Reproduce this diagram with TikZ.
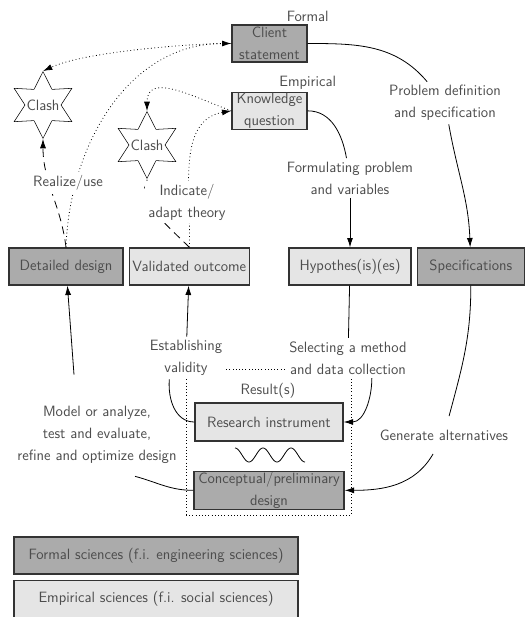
\documentclass[tikz,border=0pt]{standalone}
\usepackage{tikz}
\usetikzlibrary{arrows.meta,shapes,positioning,calc}
\tikzset{
    box/.style={draw=black!80, line width=1pt, minimum height=27.75pt, inner sep=0pt, align=center, text=black!70},
    formal/.style={box, fill=black!33},
    empirical/.style={box, fill=black!10},
    clash/.style={draw, star, star points=6, star point ratio=1.85, minimum size=50pt, inner sep=0pt, fill=white},
    phase/.style={align=center, fill=white, inner sep=2.5pt, text=black!70},
    link/.style={semithick},
    flow/.style={link, -{Latex[length=7pt, width=4.5pt]}},
    feedback/.style={flow, dotted},
    conflict/.style={flow, dash pattern=on 6pt off 4pt}
}

\begin{document}
\begin{tikzpicture}[x=0.75pt, y=-0.75pt, font={\fontsize{11.2pt}{16.5pt}\selectfont\sffamily}]
\useasboundingbox (0,0) rectangle (525,617);
\node[draw, dotted, minimum width=123.75pt, minimum height=109.5pt] (results) at (268.5,442) {};

\node[formal, minimum width=56.25pt] (client) at (269.5,43.5) {Client\\statement};
\node[empirical, minimum width=56.25pt, below=21.75pt of client] (knowledge) {Knowledge\\question};
\node[text=black!70, inner sep=1.5pt, above=0pt of client.north east] (formaltag) {Formal};
\node[text=black!70, inner sep=1.5pt, above=0pt of knowledge.north east] (empiricaltag) {Empirical};
\node[formal, minimum width=85.5pt] (detailed) at (66,266.5) {Detailed design};
\node[empirical, minimum width=90pt, right=3.75pt of detailed] (validated) {Validated outcome};
\node[empirical, minimum width=91.5pt] (hypotheses) at (350,266.5) {Hypothes(is)(es)};
\node[formal, minimum width=80.25pt, right=3.75pt of hypotheses] (specs) {Specifications};
\node[empirical, minimum width=111pt, minimum height=28.5pt] (instrument) at (269,422) {Research instrument};
\node[formal, minimum width=112.5pt, minimum height=28.5pt, below=21.75pt of instrument] (concept) {Conceptual/preliminary\\design};
\node[formal, minimum width=213pt] (formalkey) at (156,555.5) {Formal sciences (f.i. engineering sciences)};
\node[empirical, minimum width=213pt, below=3.75pt of formalkey] (empiricalkey) {Empirical sciences (f.i. social sciences)};

\node[clash, label={[text=black!70]center:Clash}] (clash1) at (43,105) {};
\node[clash, label={[text=black!70]center:Clash}] (clash2) at (147,145) {};

\draw[conflict] (detailed.north) to[out=97,in=-90] (clash1.south);
\draw[feedback] (detailed.north) to[out=88,in=180] (client.west);
\draw[feedback] (client.west) to[out=180,in=25,looseness=0.6] (clash1.north);
\draw[conflict] (validated.north) to[out=135,in=-90] (clash2.south);
\draw[feedback] (validated.north) to[out=88,in=190] (knowledge.west);
\draw[feedback] (knowledge.west) to[out=160,in=90,looseness=1.2] (clash2.north);

\node[phase] (realize) at (68,183) {Realize/use};
\node[phase] (indicate) at (187,202) {Indicate/\\adapt theory};
\node[phase] (problemdef) at (445,103) {Problem definition\\and specification};
\node[phase] (formulating) at (350,178) {Formulating problem\\and variables};
\node[phase] (selecting) at (348,358) {Selecting a method\\and data collection};
\node[phase] (establishing) at (186,358) {Establishing\\validity};
\node[phase, inner ysep=10pt] (generate) at (444,435) {Generate alternatives};
\node[phase] (modelanalyze) at (97,435) {Model or analyze,\\test and evaluate,\\refine and optimize design};
\node[text=black!70] (result) at (268,391) {Result(s)};

\draw[link] (client.east) to[out=0,in=130] (problemdef);
\draw[flow] (problemdef) to[out=-80,in=92] (specs);
\draw[link] (knowledge.east) to[out=0,in=100] (formulating);
\draw[flow] (formulating) -- (hypotheses);
\draw[link] (hypotheses) -- (selecting);
\draw[flow] (selecting.-40) to[out=-90,in=0] (instrument.east);
\draw[link] (specs) to[out=-90,in=75] (generate);
\draw[flow] (generate) to[out=-120,in=0] (concept.east);
\draw[link] (instrument.west) to[out=180,in=-95] (establishing.-128);
\draw[flow] (establishing) -- (validated);
\draw[link] (concept.west) to[out=180,in=-15] ($(modelanalyze.south)+(38,9)$);
\draw[flow] ($(modelanalyze.north)+(-23,-28)$) -- (detailed);

\draw[link, domain=0:900, samples=90, smooth, variable=\t] plot ({235+\t/900*70}, {455-7*cos(\t)});
\end{tikzpicture}
\end{document}
